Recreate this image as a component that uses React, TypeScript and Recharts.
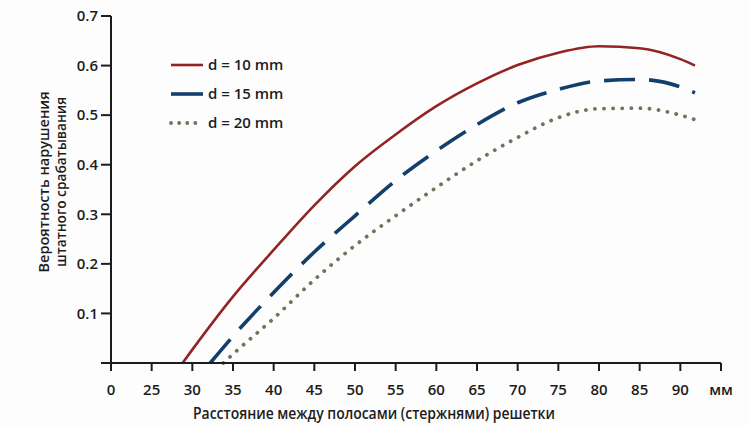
import { Label, Line, LineChart, XAxis, YAxis } from 'recharts'

// gap between grid bars, mm (20 on the scale is printed as "0" – broken axis)
const d10X = [28.8, 30, 35, 40, 45, 50, 55, 60, 65, 70, 75, 80, 85, 90, 91.8]
const d10Y = [0, 0.027, 0.134, 0.228, 0.318, 0.397, 0.461, 0.518, 0.564, 0.601, 0.626, 0.639, 0.635, 0.613, 0.6]

const d15X = [32.2, 35, 40, 45, 50, 55, 60, 65, 70, 75, 80, 85, 90, 91.8]
const d15Y = [0, 0.054, 0.142, 0.224, 0.297, 0.368, 0.428, 0.481, 0.525, 0.552, 0.569, 0.572, 0.557, 0.545]

const d20X = [33.8, 35, 40, 45, 50, 55, 60, 65, 70, 75, 80, 85, 90, 91.8]
const d20Y = [0, 0.018, 0.09, 0.168, 0.237, 0.297, 0.354, 0.408, 0.455, 0.495, 0.513, 0.514, 0.5, 0.491]

const xTicks = [20, 25, 30, 35, 40, 45, 50, 55, 60, 65, 70, 75, 80, 85, 90, 95]
const yTicks = [0, 0.1, 0.2, 0.3, 0.4, 0.5, 0.6, 0.7]

const toPoints = (xs: number[], ys: number[]) => xs.map((x, i) => ({ x, p: ys[i] }))

const series = [
  { name: 'd = 10 mm', data: toPoints(d10X, d10Y), color: '#942424', width: 2.6, dash: undefined, cap: 'butt' },
  { name: 'd = 15 mm', data: toPoints(d15X, d15Y), color: '#123f6b', width: 3.6, dash: '31 14', cap: 'butt' },
  { name: 'd = 20 mm', data: toPoints(d20X, d20Y), color: '#6d7659', width: 3.8, dash: '0.1 9', cap: 'round' },
] as const

const FONT = '"Open Sans", sans-serif'
const INK = '#1c1c1c'

const xFmt = (v: number) => (v === 20 ? '0' : v === 95 ? 'мм' : String(v))
const yFmt = (v: number) => (v === 0 ? '' : v.toFixed(1))

const YTitle = () => (
  <g fontFamily={FONT} fontSize={15} fontWeight={600} fill={INK} textAnchor='middle'>
    <text transform='translate(49,182) rotate(-90)' textLength={181} lengthAdjust='spacingAndGlyphs'>
      Вероятность нарушения
    </text>
    <text transform='translate(66,182) rotate(-90)' textLength={170} lengthAdjust='spacingAndGlyphs'>
      штатного срабатывания
    </text>
  </g>
)

const XTitle = () => (
  <text
    x={374}
    y={419}
    fontFamily={FONT}
    fontSize={16}
    fontWeight={600}
    fill={INK}
    textAnchor='middle'
    textLength={362}
    lengthAdjust='spacingAndGlyphs'
  >
    Расстояние между полосами (стержнями) решетки
  </text>
)

const LegendBox = () => (
  <svg width={140} height={90} style={{ position: 'absolute', left: 160, top: 50 }}>
    {series.map((s, i) => (
      <g key={s.name}>
        <line
          x1={11}
          x2={43}
          y1={15 + i * 29}
          y2={15 + i * 29}
          stroke={s.color}
          strokeWidth={s.width}
          strokeDasharray={i === 2 ? '0.1 8' : undefined}
          strokeLinecap={s.cap}
        />
        <text x={48} y={20 + i * 29} fontFamily={FONT} fontSize={15} fontWeight={600} fill={INK}>
          {s.name}
        </text>
      </g>
    ))}
  </svg>
)

export default function App() {
  return (
    <div style={{ position: 'absolute', left: 0, top: 0, width: 749, height: 426, background: '#fdfdfd' }}>
      <LineChart width={749} height={426} margin={{ top: 16, right: 28, left: 0, bottom: 0 }}>
        <XAxis
          type='number'
          dataKey='x'
          domain={[20, 95]}
          ticks={xTicks}
          tickFormatter={xFmt}
          height={63}
          tickSize={8}
          tickMargin={13}
          axisLine={{ stroke: INK, strokeWidth: 2 }}
          tickLine={{ stroke: INK, strokeWidth: 2 }}
          tick={{ fill: INK, fontSize: 15, fontFamily: FONT, fontWeight: 600 }}
          allowDataOverflow
        >
          <Label content={XTitle} />
        </XAxis>
        <YAxis
          type='number'
          domain={[0, 0.7]}
          ticks={yTicks}
          tickFormatter={yFmt}
          width={111}
          tickSize={10}
          tickMargin={3}
          axisLine={{ stroke: INK, strokeWidth: 2 }}
          tickLine={{ stroke: INK, strokeWidth: 2 }}
          tick={{ fill: INK, fontSize: 15, fontFamily: FONT, fontWeight: 600 }}
        >
          <Label content={YTitle} />
        </YAxis>
        {series.map((s) => (
          <Line
            key={s.name}
            data={s.data as any}
            dataKey='p'
            name={s.name}
            type='monotone'
            stroke={s.color}
            strokeWidth={s.width}
            strokeDasharray={s.dash}
            strokeLinecap={s.cap}
            dot={false}
            activeDot={false}
            isAnimationActive={false}
          />
        ))}
      </LineChart>
      <LegendBox />
    </div>
  )
}
